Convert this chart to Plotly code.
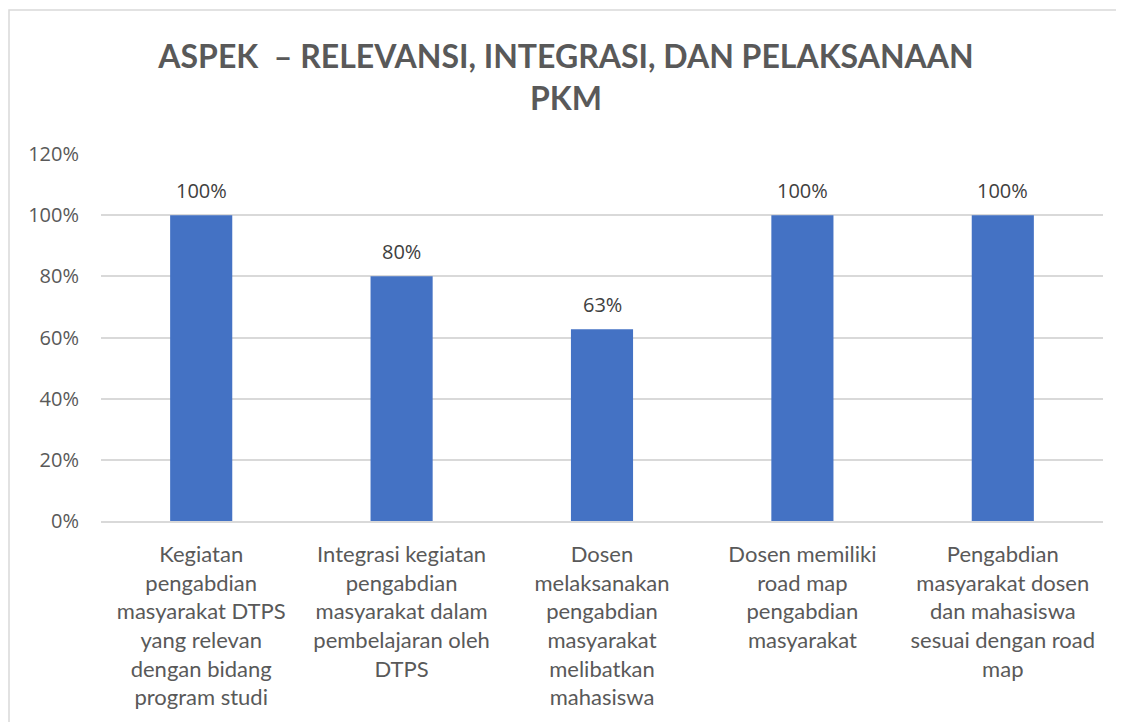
import plotly.graph_objects as go

categories = [
    "Kegiatan<br>pengabdian<br>masyarakat DTPS<br>yang relevan<br>dengan bidang<br>program studi",
    "Integrasi kegiatan<br>pengabdian<br>masyarakat dalam<br>pembelajaran oleh<br>DTPS",
    "Dosen<br>melaksanakan<br>pengabdian<br>masyarakat<br>melibatkan<br>mahasiswa",
    "Dosen memiliki<br>road map<br>pengabdian<br>masyarakat",
    "Pengabdian<br>masyarakat dosen<br>dan mahasiswa<br>sesuai dengan road<br>map",
]
values = [1.00, 0.80, 0.627, 1.00, 1.00]
tick_vals = [0, 0.2, 0.4, 0.6, 0.8, 1.0, 1.2]
title_text = "ASPEK  – RELEVANSI, INTEGRASI, DAN PELAKSANAAN<br>PKM"

BAR_COLOR = "#4472C4"
GRID = "#d9d9d9"
TXT = "#595959"
FONT = "Open Sans"

fig = go.Figure()
fig.add_trace(go.Bar(
    x=categories, y=values, marker=dict(color=BAR_COLOR, line=dict(width=0)),
    hoverinfo="skip",
))

for c, v in zip(categories, values):
    fig.add_annotation(x=c, y=v, text=f"{v:.0%}", showarrow=False,
                       yshift=25, font=dict(family=FONT, size=20, color="#404040"))

fig.update_layout(
    width=1116, height=714,
    margin=dict(l=93, r=21, t=146, b=201),
    paper_bgcolor="white", plot_bgcolor="white",
    bargap=0.69,
    showlegend=False,
    title=dict(text=title_text, x=0.5, xanchor="center", xref="container",
               y=0.916, yanchor="top",
               font=dict(family="Lato", size=32, color=TXT, weight="bold")),
    font=dict(family=FONT, color=TXT),
)
fig.update_yaxes(range=[0, 1.2], tickvals=tick_vals, tickformat=".0%",
                 showgrid=True, gridcolor=GRID, gridwidth=1.5,
                 zeroline=False, showline=False,
                 tickfont=dict(family=FONT, size=20, color=TXT),
                 ticklabelstandoff=21)
fig.update_xaxes(showline=True, linecolor=GRID, linewidth=1.5,
                 tickfont=dict(family="Lato", size=22, color=TXT),
                 ticklabelstandoff=13, tickangle=0)

# outer chart border (top and left visible)
fig.add_shape(type="rect", xref="paper", yref="paper",
              x0=-92/1002, x1=1.2, y0=-1.0, y1=(513-2)/367,
              line=dict(color=GRID, width=1.5), layer="below")

fig.write_html("out.html")
